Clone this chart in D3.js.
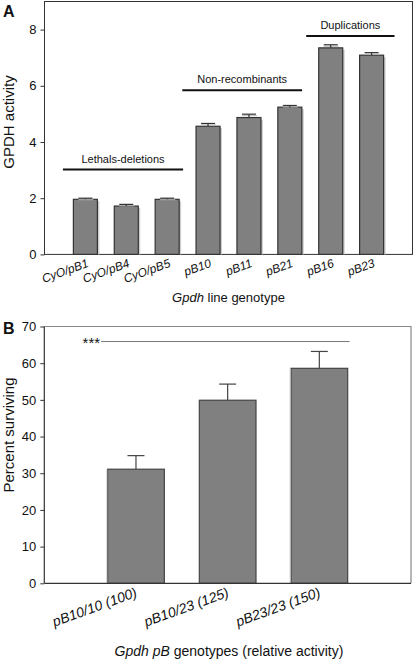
<!DOCTYPE html>
<html><head><meta charset="utf-8">
<script src="https://cdn.jsdelivr.net/npm/d3@7"></script>
<style>body{margin:0;background:#fff}svg{display:block;font-family:"Liberation Sans",Arial,sans-serif}</style>
</head><body><svg id="c" width="415" height="662"></svg>
<script>
// Panel A data
const catsA = ["CyO/pB1","CyO/pB4","CyO/pB5","pB10","pB11","pB21","pB16","pB23"];
const valsA = [1.96, 1.72, 1.96, 4.56, 4.87, 5.24, 7.35, 7.09];
const errA  = [0.04, 0.06, 0.04, 0.10, 0.12, 0.06, 0.11, 0.09];
const ticksA = [0, 2, 4, 6, 8];
const groupsA = [
  {label:"Lethals-deletions", from:0.45, to:3.39, y:3.02},
  {label:"Non-recombinants", from:3.37, to:6.30, y:5.84},
  {label:"Duplications", from:6.40, to:8.56, y:7.77}
];
// Panel B data
const catsB = ["pB10/10 (100)","pB10/23 (125)","pB23/23 (150)"];
const valsB = [31.1, 49.9, 58.6];
const errB  = [3.7, 4.4, 4.6];
const ticksB = [0,10,20,30,40,50,60,70];
const sigB = {label:"***", from:0.62, to:3.33, y:65.9};

const FONT = "'Liberation Sans',Arial,sans-serif";
const svg = d3.select("#c");

// ---------- Panel A ----------
const ax0 = 44.5, ax1 = 412.5;
const xA = d3.scaleLinear().domain([0, catsA.length+1]).range([ax0, ax1]);
const yA = d3.scaleLinear().domain([0, 9]).range([254.4, 1.5]);
const bwA = 24;
const gA = svg.append("g");
gA.append("rect").attr("x",ax0).attr("y",yA(9)).attr("width",ax1-ax0).attr("height",yA(0)-yA(9))
  .attr("fill","none").attr("stroke","#333").attr("stroke-width",1);
gA.selectAll("rect.sh").data(valsA).join("rect").attr("class","sh")
  .attr("x",(d,i)=>xA(i+1)-bwA/2+2).attr("y",d=>yA(d)+2).attr("width",bwA).attr("height",d=>yA(0)-yA(d)-2)
  .attr("fill","#cfcfcf");
gA.selectAll("rect.bar").data(valsA).join("rect").attr("class","bar")
  .attr("x",(d,i)=>xA(i+1)-bwA/2).attr("y",d=>yA(d)).attr("width",bwA).attr("height",d=>yA(0)-yA(d))
  .attr("fill","#808080").attr("stroke","#333").attr("stroke-width",1.2);
valsA.forEach((v,i)=>{
  const cx = xA(i+1), top = yA(v+errA[i]);
  gA.append("line").attr("x1",cx-7).attr("x2",cx+8).attr("y1",top+1.5).attr("y2",top+1.5).attr("stroke","#bbb").attr("stroke-width",1);
  gA.append("line").attr("x1",cx).attr("x2",cx).attr("y1",yA(v)).attr("y2",top).attr("stroke","#333").attr("stroke-width",1.2);
  gA.append("line").attr("x1",cx-7).attr("x2",cx+7).attr("y1",top).attr("y2",top).attr("stroke","#333").attr("stroke-width",1.2);
});
const yAxA = d3.axisLeft(yA).tickValues(ticksA).tickSize(4).tickPadding(4).tickFormat(d3.format("d"));
gA.append("g").attr("transform",`translate(${ax0},0)`).call(yAxA)
  .call(g=>{g.select(".domain").remove();g.attr("font-family",FONT);g.selectAll("line").attr("stroke","#333");g.selectAll("text").attr("font-size",13).attr("fill","#111");});
catsA.forEach((c,i)=>{
  gA.append("text").attr("transform",`translate(${xA(i+1)+4},${yA(0)+12}) rotate(-20)`)
    .attr("text-anchor","end").attr("font-size",12).attr("font-style","italic").attr("fill","#111").text(c);
});
groupsA.forEach(g=>{
  gA.append("line").attr("x1",xA(g.from)).attr("x2",xA(g.to)).attr("y1",yA(g.y)).attr("y2",yA(g.y)).attr("stroke","#111").attr("stroke-width",2);
  gA.append("text").attr("x",(xA(g.from)+xA(g.to))/2).attr("y",yA(g.y)-7).attr("text-anchor","middle").attr("font-size",11).attr("fill","#111").text(g.label);
});
gA.append("text").attr("transform",`translate(14,122) rotate(-90)`).attr("text-anchor","middle").attr("font-size",15).attr("fill","#111").text("GPDH activity");
const tA = gA.append("text").attr("x",(ax0+ax1)/2).attr("y",302).attr("text-anchor","middle").attr("font-size",13).attr("fill","#111");
tA.append("tspan").attr("font-style","italic").text("Gpdh");
tA.append("tspan").text(" line genotype");
svg.append("text").attr("x",3).attr("y",17).attr("font-size",16).attr("font-weight","bold").attr("fill","#111").text("A");

// ---------- Panel B ----------
const bx0 = 44.3, bx1 = 411;
const xB = d3.scaleLinear().domain([0, catsB.length+1]).range([bx0, bx1]);
const yB = d3.scaleLinear().domain([0, 70]).range([583.3, 326.5]);
const bwB = 56.7;
const gB = svg.append("g");
gB.append("path").attr("d",`M${bx0},${yB(70)}H${bx1}V${yB(0)}`).attr("fill","none").attr("stroke","#888").attr("stroke-width",1.2);
gB.selectAll("rect.bar").data(valsB).join("rect").attr("class","bar")
  .attr("x",(d,i)=>xB(i+1)-bwB/2).attr("y",d=>yB(d)).attr("width",bwB).attr("height",d=>yB(0)-yB(d))
  .attr("fill","#808080").attr("stroke","#444").attr("stroke-width",1.2);
gB.selectAll("line.lt").data(valsB).join("line").attr("class","lt")
  .attr("x1",(d,i)=>xB(i+1)-bwB/2-0.8).attr("x2",(d,i)=>xB(i+1)-bwB/2-0.8).attr("y1",d=>yB(d)).attr("y2",yB(0))
  .attr("stroke","#ccc").attr("stroke-width",1);
valsB.forEach((v,i)=>{
  const cx = xB(i+1), top = yB(v+errB[i]);
  gB.append("line").attr("x1",cx).attr("x2",cx).attr("y1",yB(v)).attr("y2",top).attr("stroke","#444").attr("stroke-width",1.2);
  gB.append("line").attr("x1",cx-8.5).attr("x2",cx+8.5).attr("y1",top).attr("y2",top).attr("stroke","#444").attr("stroke-width",1.2);
});
gB.append("line").attr("x1",bx0).attr("x2",bx0).attr("y1",yB(70)).attr("y2",yB(0)).attr("stroke","#333").attr("stroke-width",1.2);
gB.append("line").attr("x1",bx0).attr("x2",bx1).attr("y1",yB(0)).attr("y2",yB(0)).attr("stroke","#333").attr("stroke-width",1.2);
const yAxB = d3.axisLeft(yB).tickValues(ticksB).tickSize(4).tickPadding(4).tickFormat(d3.format("d"));
gB.append("g").attr("transform",`translate(${bx0},0)`).call(yAxB)
  .call(g=>{g.select(".domain").remove();g.attr("font-family",FONT);g.selectAll("line").attr("stroke","#333");g.selectAll("text").attr("font-size",13).attr("fill","#111");});
catsB.forEach((c,i)=>{
  gB.append("text").attr("transform",`translate(${xB(i+1)+2},${yB(0)+13}) rotate(-20)`)
    .attr("text-anchor","end").attr("font-size",14).attr("font-style","italic").attr("fill","#111").text(c);
});
gB.append("text").attr("x",xB(sigB.from)-1).attr("y",yB(sigB.y)+6).attr("text-anchor","end").attr("font-size",15).attr("fill","#111").text(sigB.label);
gB.append("line").attr("x1",xB(sigB.from)).attr("x2",xB(sigB.to)).attr("y1",yB(sigB.y)).attr("y2",yB(sigB.y)).attr("stroke","#777").attr("stroke-width",1);
gB.append("text").attr("transform",`translate(14,435) rotate(-90)`).attr("text-anchor","middle").attr("font-size",15).attr("fill","#111").text("Percent surviving");
const tB = gB.append("text").attr("x",229).attr("y",656).attr("text-anchor","middle").attr("font-size",14).attr("fill","#111");
tB.append("tspan").attr("font-style","italic").text("Gpdh pB");
tB.append("tspan").text(" genotypes (relative activity)");
svg.append("text").attr("x",3).attr("y",334).attr("font-size",16).attr("font-weight","bold").attr("fill","#111").text("B");
</script></body></html>
